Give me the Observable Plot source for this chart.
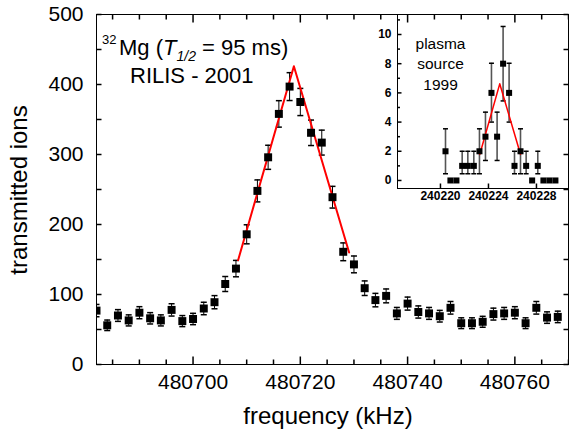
<!DOCTYPE html>
<html><head><meta charset="utf-8">
<script src="https://cdn.jsdelivr.net/npm/d3@7"></script>
<script src="https://cdn.jsdelivr.net/npm/@observablehq/plot@0.6"></script>
<style>
body{margin:0;background:#fff;}
#wrap{position:relative;width:569px;height:434px;font-family:"Liberation Sans",Arial,Helvetica,sans-serif;}
#inset{position:absolute;left:360px;top:10px;}
</style></head><body><div id="wrap"><div id="main"></div><div id="inset"></div></div>
<script>
// ---- main data: 32Mg RILIS 2001 ----
const freq = [480682,480684,480686,480688,480690,480692,480694,480696,480698,480700,
  480702,480704,480706,480708,480710,480712,480714,480716,480718,480720,
  480722,480724,480726,480728,480730,480732,480734,480736,480738,480740,
  480742,480744,480746,480748,480750,480752,480754,480756,480758,480760,
  480762,480764,480766,480768];
const counts = [77,56,70,63,74,66,63,78,62,65,
  80,89,115,137,186,248,296,358,397,375,
  331,317,239,161,143,109,92,98,73,87,
  75,73,69,81,59,59,61,72,73,74,
  59,81,67,68];
const errors = [8.8,7.5,8.4,7.9,8.6,8.1,7.9,8.8,7.9,8.1,
  8.9,9.4,10.7,11.7,13.6,15.7,17.2,18.9,19.9,19.4,
  18.2,17.8,15.5,12.7,12.0,10.4,9.6,9.9,8.5,9.3,
  8.7,8.5,8.3,9.0,7.7,7.7,7.8,8.5,8.5,8.6,
  7.7,9.0,8.2,8.2];
const fitX = [480708.4, 480718.8, 480729.1];
const fitY = [149, 426, 160];

// ---- inset data: plasma source 1999 ----
const insetFreq = [240220.42,240220.83,240221.33,240221.81,240222.28,240222.78,240223.25,240223.75,
  240224.25,240224.72,240225.22,240225.72,240226.17,240226.67,240227.14,240227.64,
  240228.11,240228.58,240229.08,240229.58];
const insetCounts = [2,0,0,1,1,1,2,3,6,3,8,6,1,2,1,0,1,0,0,0];
const insetLow  = [0.46,null,null,0.46,0.46,0.46,0.46,1.37,4.0,1.37,5.45,4.0,0.46,0.46,0.46,null,0.46,null,null,null];
const insetHigh = [3.54,null,null,2.0,2.0,2.0,3.54,4.68,8.03,4.68,10.55,8.03,2.0,3.54,2.0,null,2.0,null,null,null];
const insetFitX = [240223.28, 240224.94, 240226.67];
const insetFitY = [1.8, 6.62, 1.8];

// ---- ticks and labels ----
const xTickLabels = [480700, 480720, 480740, 480760];
const xMinorTicks = [480685,480690,480695,480705,480710,480715,480725,480730,480735,480745,480750,480755,480765,480770];
const yTickLabels = [0, 100, 200, 300, 400, 500];
const yMinorTicks = [50, 150, 250, 350, 450];
const insetXTickLabels = [240220, 240224, 240228];
const insetYTickLabels = [0, 2, 4, 6, 8, 10];
const insetYMinorTicks = [1, 3, 5, 7, 9, 11];
const xTitle = "frequency (kHz)";
const yTitle = "transmitted ions";
const insetNote = "plasma\nsource\n1999";

const main = freq.map((f, i) => ({f, c: counts[i], lo: counts[i] - errors[i], hi: counts[i] + errors[i]}));
const fit = fitX.map((f, i) => ({f, c: fitY[i]}));
const inset = insetFreq.map((f, i) => ({f, c: insetCounts[i], lo: insetLow[i], hi: insetHigh[i]}));
const insetBars = inset.filter(d => d.lo != null);
const insetFit = insetFitX.map((f, i) => ({f, c: insetFitY[i]}));

const seg = (dx, dy) => ({draw(ctx) { ctx.moveTo(0, 0); ctx.lineTo(dx, dy); }});
const cap = w => ({draw(ctx) { ctx.moveTo(-w, 0); ctx.lineTo(w, 0); }});

const xDomain = [480682, 480770];
const mainPlot = Plot.plot({
  width: 569, height: 434,
  marginLeft: 96, marginRight: 1, marginTop: 14, marginBottom: 70,
  style: {fontFamily: '"Liberation Sans", Arial, Helvetica, sans-serif', fontSize: "21px", background: "transparent"},
  x: {domain: xDomain, label: null},
  y: {domain: [0, 500], label: null},
  marks: [
    Plot.ruleX(main, {x: "f", y1: "lo", y2: "hi", stroke: "black", strokeWidth: 1, clip: true}),
    Plot.dot(main, {x: "f", y: "lo", symbol: cap(3), stroke: "black", fill: "none", clip: true}),
    Plot.dot(main, {x: "f", y: "hi", symbol: cap(3), stroke: "black", fill: "none", clip: true}),
    Plot.line(fit, {x: "f", y: "c", stroke: "#ff0000", strokeWidth: 2}),
    Plot.dot(main, {x: "f", y: "c", symbol: "square", r: 4.5, fill: "black", stroke: "none", clip: true}),
    Plot.frame({stroke: "black", strokeWidth: 1}),
    // inward ticks
    Plot.dot(xTickLabels, {x: d => d, frameAnchor: "bottom", symbol: seg(0, -8), stroke: "black", fill: "none"}),
    Plot.dot(xMinorTicks, {x: d => d, frameAnchor: "bottom", symbol: seg(0, -5), stroke: "black", fill: "none"}),
    Plot.dot(xTickLabels, {x: d => d, frameAnchor: "top", symbol: seg(0, 8), stroke: "black", fill: "none"}),
    Plot.dot(xMinorTicks, {x: d => d, frameAnchor: "top", symbol: seg(0, 5), stroke: "black", fill: "none"}),
    Plot.dot(yTickLabels.concat(yMinorTicks), {y: d => d, frameAnchor: "left", symbol: seg(5, 0), stroke: "black", fill: "none"}),
    Plot.dot(yTickLabels.concat(yMinorTicks), {y: d => d, frameAnchor: "right", symbol: seg(-5, 0), stroke: "black", fill: "none"}),
    Plot.axisX({ticks: xTickLabels, tickSize: 0, tickPadding: 10, tickFormat: d3.format("d"), fontSize: 21, label: null}),
    Plot.axisY({ticks: yTickLabels, tickSize: 0, tickPadding: 13, tickFormat: d3.format("d"), fontSize: 21, label: null})
  ]
});
document.getElementById("main").appendChild(mainPlot);

const svg = d3.select(mainPlot);
// axis titles
svg.append("text").attr("x", 328).attr("y", 424).attr("text-anchor", "middle")
  .attr("font-size", 24).text(xTitle);
svg.append("text").attr("transform", "translate(27,190) rotate(-90)").attr("text-anchor", "middle")
  .attr("font-size", 24).text(yTitle);
// annotation with superscript / italic subscript
svg.append("text").attr("x", 102).attr("y", 44).attr("text-anchor", "start").attr("font-size", 13).text("32");
const t = svg.append("text").attr("x", 119).attr("y", 55).attr("text-anchor", "start").attr("font-size", 22);
t.append("tspan").text("Mg (");
t.append("tspan").attr("font-style", "italic").text("T");
t.append("tspan").attr("font-style", "italic").attr("font-size", 14).attr("dy", 6).text("1/2");
t.append("tspan").attr("dy", -6).text(" = 95 ms)");
svg.append("text").attr("x", 130).attr("y", 83).attr("text-anchor", "start").attr("font-size", 22).text("RILIS - 2001");

// ---- inset ----
const insetX = [240216.42, 240230.67];
const insetY = [-0.55, 11.37];
const insetPlot = Plot.plot({
  width: 209, height: 200,
  marginLeft: 37, marginRight: 1, marginTop: 4, marginBottom: 22,
  style: {fontFamily: '"Liberation Sans", Arial, Helvetica, sans-serif', fontSize: "12px", background: "transparent"},
  x: {domain: insetX, label: null},
  y: {domain: insetY, label: null},
  marks: [
    Plot.ruleX([insetX[0]], {stroke: "black"}),
    Plot.ruleY([insetY[0]], {stroke: "black"}),
    Plot.ruleX(insetBars, {x: "f", y1: "lo", y2: "hi", stroke: "#555", strokeWidth: 1.6}),
    Plot.dot(insetBars, {x: "f", y: "lo", symbol: cap(2.5), stroke: "black", fill: "none"}),
    Plot.dot(insetBars, {x: "f", y: "hi", symbol: cap(2.5), stroke: "black", fill: "none"}),
    Plot.line(insetFit, {x: "f", y: "c", stroke: "#ff0000", strokeWidth: 1.5}),
    Plot.dot(inset, {x: "f", y: "c", symbol: "square", r: 3.4, fill: "black", stroke: "none"}),
    Plot.dot(insetXTickLabels, {x: d => d, frameAnchor: "bottom", symbol: seg(0, -5), stroke: "black", fill: "none"}),
    Plot.dot(insetYTickLabels, {y: d => d, frameAnchor: "left", symbol: seg(4, 0), stroke: "black", fill: "none"}),
    Plot.dot(insetYMinorTicks, {y: d => d, frameAnchor: "left", symbol: seg(2.5, 0), stroke: "black", fill: "none"}),
    Plot.axisX({ticks: insetXTickLabels, tickSize: 0, tickPadding: 3, tickFormat: d3.format("d"), fontWeight: "bold", fontSize: 12, label: null}),
    Plot.axisY({ticks: insetYTickLabels, tickSize: 0, tickPadding: 6, tickFormat: d3.format("d"), fontWeight: "bold", fontSize: 12, label: null}),
    Plot.text([insetNote], {text: d => d, frameAnchor: "top-left", dx: 43, dy: 20, textAnchor: "middle", lineAnchor: "top", fontSize: 15.5, lineHeight: 1.32})
  ]
});
document.getElementById("inset").appendChild(insetPlot);
</script></body></html>
